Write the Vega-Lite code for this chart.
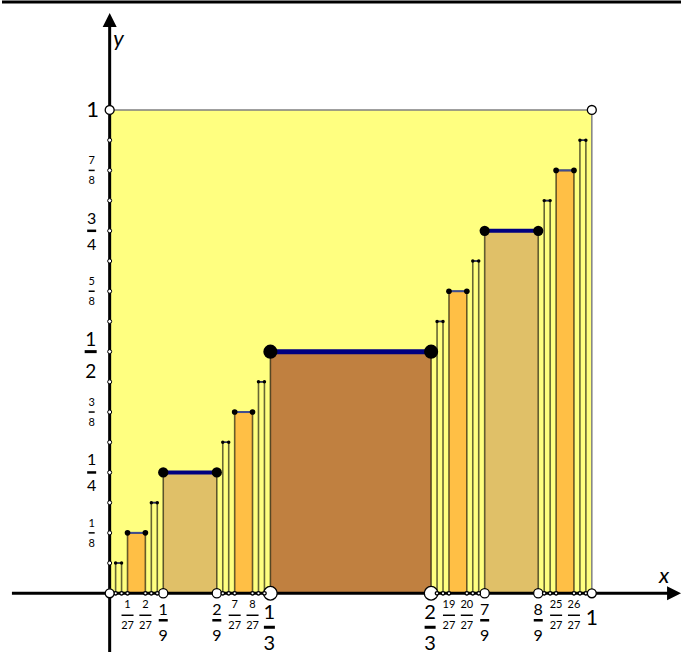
{
  "$schema": "https://vega.github.io/schema/vega-lite/v6.json",
  "width": 683,
  "height": 655,
  "padding": 0,
  "autosize": {"type": "fit", "contains": "padding"},
  "background": "white",
  "config": {"view": {"stroke": null}, "text": {"font": "Lato", "color": "black"}},
  "datasets": {
    "steps": [
      {"lo": 0.333333, "hi": 0.666667, "h": 0.5, "level": 1},
      {"lo": 0.111111, "hi": 0.222222, "h": 0.25, "level": 2},
      {"lo": 0.777778, "hi": 0.888889, "h": 0.75, "level": 2},
      {"lo": 0.037037, "hi": 0.074074, "h": 0.125, "level": 3},
      {"lo": 0.259259, "hi": 0.296296, "h": 0.375, "level": 3},
      {"lo": 0.703704, "hi": 0.740741, "h": 0.625, "level": 3},
      {"lo": 0.925926, "hi": 0.962963, "h": 0.875, "level": 3},
      {"lo": 0.012346, "hi": 0.024691, "h": 0.0625, "level": 4},
      {"lo": 0.08642, "hi": 0.098765, "h": 0.1875, "level": 4},
      {"lo": 0.234568, "hi": 0.246914, "h": 0.3125, "level": 4},
      {"lo": 0.308642, "hi": 0.320988, "h": 0.4375, "level": 4},
      {"lo": 0.679012, "hi": 0.691358, "h": 0.5625, "level": 4},
      {"lo": 0.753086, "hi": 0.765432, "h": 0.6875, "level": 4},
      {"lo": 0.901235, "hi": 0.91358, "h": 0.8125, "level": 4},
      {"lo": 0.975309, "hi": 0.987654, "h": 0.9375, "level": 4}
    ],
    "xlab": [
      {"x": 0.037037, "num": "1", "den": "27", "tier": "s"},
      {"x": 0.074074, "num": "2", "den": "27", "tier": "s"},
      {"x": 0.259259, "num": "7", "den": "27", "tier": "s"},
      {"x": 0.296296, "num": "8", "den": "27", "tier": "s"},
      {"x": 0.703704, "num": "19", "den": "27", "tier": "s"},
      {"x": 0.740741, "num": "20", "den": "27", "tier": "s"},
      {"x": 0.925926, "num": "25", "den": "27", "tier": "s"},
      {"x": 0.962963, "num": "26", "den": "27", "tier": "s"},
      {"x": 0.111111, "num": "1", "den": "9", "tier": "m"},
      {"x": 0.222222, "num": "2", "den": "9", "tier": "m"},
      {"x": 0.777778, "num": "7", "den": "9", "tier": "m"},
      {"x": 0.888889, "num": "8", "den": "9", "tier": "m"},
      {"x": 0.333333, "num": "1", "den": "3", "tier": "l"},
      {"x": 0.666667, "num": "2", "den": "3", "tier": "l"}
    ],
    "ylab": [
      {"y": 0.125, "num": "1", "den": "8", "tier": "s"},
      {"y": 0.375, "num": "3", "den": "8", "tier": "s"},
      {"y": 0.625, "num": "5", "den": "8", "tier": "s"},
      {"y": 0.875, "num": "7", "den": "8", "tier": "s"},
      {"y": 0.25, "num": "1", "den": "4", "tier": "m"},
      {"y": 0.75, "num": "3", "den": "4", "tier": "m"},
      {"y": 0.5, "num": "1", "den": "2", "tier": "l"}
    ],
    "yticks": [
      {"y": 0.0625}, {"y": 0.125}, {"y": 0.1875}, {"y": 0.25}, {"y": 0.3125},
      {"y": 0.375}, {"y": 0.4375}, {"y": 0.5}, {"y": 0.5625}, {"y": 0.625},
      {"y": 0.6875}, {"y": 0.75}, {"y": 0.8125}, {"y": 0.875}, {"y": 0.9375}
    ]
  },
  "resolve": {"scale": {"size": "independent", "strokeWidth": "independent", "color": "independent", "fill": "independent", "shape": "independent"}},
  "layer": [
    {
      "data": {"values": [{"a": 0, "b": 1, "c": 0, "d": 1}]},
      "mark": {"type": "rect", "fill": "#FFFF80", "stroke": "#808080", "strokeWidth": 1.5},
      "encoding": {
        "x": {"field": "a", "type": "quantitative", "scale": {"domain": [-0.2233, 1.18495], "nice": false, "zero": false}, "axis": null},
        "x2": {"field": "b"},
        "y": {"field": "c", "type": "quantitative", "scale": {"domain": [-0.12152, 1.2276], "nice": false, "zero": false}, "axis": null},
        "y2": {"field": "d"}
      }
    },
    {
      "data": {"name": "steps"},
      "mark": {"type": "rect", "stroke": "black", "strokeOpacity": 0.6, "strokeWidth": 1.6},
      "encoding": {
        "x": {"field": "lo", "type": "quantitative", "scale": {"domain": [-0.2233, 1.18495], "nice": false, "zero": false}, "axis": null},
        "x2": {"field": "hi"},
        "y": {"field": "h", "type": "quantitative", "scale": {"domain": [-0.12152, 1.2276], "nice": false, "zero": false}, "axis": null},
        "y2": {"datum": 0},
        "fill": {"field": "level", "type": "ordinal", "scale": {"type": "ordinal", "domain": [1, 2, 3, 4], "range": ["#C08040", "#E0C068", "#FFBF45", "#FFFF80"]}, "legend": null}
      }
    },
    {
      "data": {"values": [{"a": -0.2027, "b": 1.1705, "c": 0}]},
      "mark": {"type": "rule", "color": "black", "strokeWidth": 3},
      "encoding": {
        "x": {"field": "a", "type": "quantitative", "scale": {"domain": [-0.2233, 1.18495], "nice": false, "zero": false}, "axis": null},
        "x2": {"field": "b"},
        "y": {"field": "c", "type": "quantitative", "scale": {"domain": [-0.12152, 1.2276], "nice": false, "zero": false}, "axis": null}
      }
    },
    {
      "data": {"values": [{"c": 0, "a": -0.12152, "b": 1.1864}]},
      "mark": {"type": "rule", "color": "black", "strokeWidth": 3},
      "encoding": {
        "x": {"field": "c", "type": "quantitative", "scale": {"domain": [-0.2233, 1.18495], "nice": false, "zero": false}, "axis": null},
        "y": {"field": "a", "type": "quantitative", "scale": {"domain": [-0.12152, 1.2276], "nice": false, "zero": false}, "axis": null},
        "y2": {"field": "b"}
      }
    },
    {
      "data": {"values": [{"a": -0.2233, "b": 1.18495, "c": 1.2235}]},
      "mark": {"type": "rule", "color": "black", "strokeWidth": 3},
      "encoding": {
        "x": {"field": "a", "type": "quantitative", "scale": {"domain": [-0.2233, 1.18495], "nice": false, "zero": false}, "axis": null},
        "x2": {"field": "b"},
        "y": {"field": "c", "type": "quantitative", "scale": {"domain": [-0.12152, 1.2276], "nice": false, "zero": false}, "axis": null}
      }
    },
    {
      "data": {"values": [{"px": 0, "py": 1.1864, "dir": "up"}, {"px": 1.1705, "py": 0, "dir": "right"}]},
      "mark": {"type": "point", "filled": true, "color": "black", "opacity": 1, "size": 196},
      "encoding": {
        "x": {"field": "px", "type": "quantitative", "scale": {"domain": [-0.2233, 1.18495], "nice": false, "zero": false}, "axis": null},
        "y": {"field": "py", "type": "quantitative", "scale": {"domain": [-0.12152, 1.2276], "nice": false, "zero": false}, "axis": null},
        "shape": {"field": "dir", "type": "nominal", "scale": {"domain": ["up", "right"], "range": ["M-1,1L1,1L0,-1Z", "M-1,-1L1,0L-1,1Z"]}, "legend": null}
      }
    },
    {
      "data": {"name": "steps"},
      "mark": {"type": "rule"},
      "encoding": {
        "x": {"field": "lo", "type": "quantitative", "scale": {"domain": [-0.2233, 1.18495], "nice": false, "zero": false}, "axis": null},
        "x2": {"field": "hi"},
        "y": {"field": "h", "type": "quantitative", "scale": {"domain": [-0.12152, 1.2276], "nice": false, "zero": false}, "axis": null},
        "color": {"field": "level", "type": "ordinal", "scale": {"type": "ordinal", "domain": [1, 2, 3, 4], "range": ["#000080", "#000080", "#404c90", "#2a3060"]}, "legend": null},
        "strokeWidth": {"field": "level", "type": "ordinal", "scale": {"type": "ordinal", "domain": [1, 2, 3, 4], "range": [5, 4, 2, 1.5]}, "legend": null}
      }
    },
    {
      "data": {"name": "steps"},
      "transform": [{"fold": ["lo", "hi"], "as": ["end", "px"]}],
      "mark": {"type": "point", "shape": "circle", "filled": true, "color": "black", "opacity": 1},
      "encoding": {
        "x": {"field": "px", "type": "quantitative", "scale": {"domain": [-0.2233, 1.18495], "nice": false, "zero": false}, "axis": null},
        "y": {"field": "h", "type": "quantitative", "scale": {"domain": [-0.12152, 1.2276], "nice": false, "zero": false}, "axis": null},
        "size": {"field": "level", "type": "ordinal", "scale": {"type": "ordinal", "domain": [1, 2, 3, 4], "range": [200, 105, 32, 12]}, "legend": null}
      }
    },
    {
      "data": {"name": "steps"},
      "transform": [{"fold": ["lo", "hi"], "as": ["end", "px"]}],
      "mark": {"type": "point", "shape": "circle", "filled": true, "fill": "white", "stroke": "black", "strokeWidth": 1.3, "opacity": 1},
      "encoding": {
        "x": {"field": "px", "type": "quantitative", "scale": {"domain": [-0.2233, 1.18495], "nice": false, "zero": false}, "axis": null},
        "y": {"datum": 0, "type": "quantitative", "scale": {"domain": [-0.12152, 1.2276], "nice": false, "zero": false}, "axis": null},
        "size": {"field": "level", "type": "ordinal", "scale": {"type": "ordinal", "domain": [1, 2, 3, 4], "range": [185, 85, 12, 12]}, "legend": null}
      }
    },
    {
      "data": {"values": [{"px": 0, "py": 0}, {"px": 1, "py": 0}, {"px": 0, "py": 1}, {"px": 1, "py": 1}]},
      "mark": {"type": "point", "shape": "circle", "filled": true, "fill": "white", "stroke": "black", "strokeWidth": 1.3, "opacity": 1, "size": 80},
      "encoding": {
        "x": {"field": "px", "type": "quantitative", "scale": {"domain": [-0.2233, 1.18495], "nice": false, "zero": false}, "axis": null},
        "y": {"field": "py", "type": "quantitative", "scale": {"domain": [-0.12152, 1.2276], "nice": false, "zero": false}, "axis": null}
      }
    },
    {
      "data": {"name": "yticks"},
      "mark": {"type": "point", "shape": "circle", "filled": true, "fill": "white", "stroke": "black", "strokeWidth": 1, "opacity": 1, "size": 16},
      "encoding": {
        "x": {"datum": 0, "type": "quantitative", "scale": {"domain": [-0.2233, 1.18495], "nice": false, "zero": false}, "axis": null},
        "y": {"field": "y", "type": "quantitative", "scale": {"domain": [-0.12152, 1.2276], "nice": false, "zero": false}, "axis": null}
      }
    },
    {
      "data": {"name": "xlab"},
      "transform": [{"filter": "datum.tier == 's'"}],
      "layer": [
        {"mark": {"type": "text", "fontSize": 11, "baseline": "middle", "dy": 12}, "encoding": {"text": {"field": "num"}}},
        {"mark": {"type": "rule", "color": "black", "strokeWidth": 1.5, "yOffset": 22, "xOffset": -6, "x2Offset": 6}, "encoding": {"x2": {"field": "x"}}},
        {"mark": {"type": "text", "fontSize": 11, "baseline": "middle", "dy": 33}, "encoding": {"text": {"field": "den"}}}
      ],
      "encoding": {
        "x": {"field": "x", "type": "quantitative", "scale": {"domain": [-0.2233, 1.18495], "nice": false, "zero": false}, "axis": null},
        "y": {"datum": 0, "type": "quantitative", "scale": {"domain": [-0.12152, 1.2276], "nice": false, "zero": false}, "axis": null}
      }
    },
    {
      "data": {"name": "xlab"},
      "transform": [{"filter": "datum.tier == 'm'"}],
      "layer": [
        {"mark": {"type": "text", "fontSize": 16, "baseline": "middle", "dy": 17}, "encoding": {"text": {"field": "num"}}},
        {"mark": {"type": "rule", "color": "black", "strokeWidth": 2.5, "yOffset": 27, "xOffset": -4.5, "x2Offset": 4.5}, "encoding": {"x2": {"field": "x"}}},
        {"mark": {"type": "text", "fontSize": 16, "baseline": "middle", "dy": 43}, "encoding": {"text": {"field": "den"}}}
      ],
      "encoding": {
        "x": {"field": "x", "type": "quantitative", "scale": {"domain": [-0.2233, 1.18495], "nice": false, "zero": false}, "axis": null},
        "y": {"datum": 0, "type": "quantitative", "scale": {"domain": [-0.12152, 1.2276], "nice": false, "zero": false}, "axis": null}
      }
    },
    {
      "data": {"name": "xlab"},
      "transform": [{"filter": "datum.tier == 'l'"}],
      "layer": [
        {"mark": {"type": "text", "fontSize": 20, "baseline": "middle", "dy": 20, "dx": -1}, "encoding": {"text": {"field": "num"}}},
        {"mark": {"type": "rule", "color": "black", "strokeWidth": 3, "yOffset": 34, "xOffset": -6.5, "x2Offset": 4.5}, "encoding": {"x2": {"field": "x"}}},
        {"mark": {"type": "text", "fontSize": 20, "baseline": "middle", "dy": 51, "dx": -1}, "encoding": {"text": {"field": "den"}}}
      ],
      "encoding": {
        "x": {"field": "x", "type": "quantitative", "scale": {"domain": [-0.2233, 1.18495], "nice": false, "zero": false}, "axis": null},
        "y": {"datum": 0, "type": "quantitative", "scale": {"domain": [-0.12152, 1.2276], "nice": false, "zero": false}, "axis": null}
      }
    },
    {
      "data": {"name": "ylab"},
      "transform": [{"filter": "datum.tier == 's'"}],
      "layer": [
        {"mark": {"type": "text", "fontSize": 11, "baseline": "middle", "dx": -18, "dy": -9}, "encoding": {"text": {"field": "num"}}},
        {"mark": {"type": "rule", "color": "black", "strokeWidth": 1.5, "xOffset": -21, "x2Offset": -15}, "encoding": {"x2": {"datum": 0}}},
        {"mark": {"type": "text", "fontSize": 11, "baseline": "middle", "dx": -18, "dy": 11}, "encoding": {"text": {"field": "den"}}}
      ],
      "encoding": {
        "x": {"datum": 0, "type": "quantitative", "scale": {"domain": [-0.2233, 1.18495], "nice": false, "zero": false}, "axis": null},
        "y": {"field": "y", "type": "quantitative", "scale": {"domain": [-0.12152, 1.2276], "nice": false, "zero": false}, "axis": null}
      }
    },
    {
      "data": {"name": "ylab"},
      "transform": [{"filter": "datum.tier == 'm'"}],
      "layer": [
        {"mark": {"type": "text", "fontSize": 16, "baseline": "middle", "dx": -18, "dy": -12}, "encoding": {"text": {"field": "num"}}},
        {"mark": {"type": "rule", "color": "black", "strokeWidth": 2.5, "xOffset": -22.5, "x2Offset": -13.5}, "encoding": {"x2": {"datum": 0}}},
        {"mark": {"type": "text", "fontSize": 16, "baseline": "middle", "dx": -18, "dy": 14}, "encoding": {"text": {"field": "den"}}}
      ],
      "encoding": {
        "x": {"datum": 0, "type": "quantitative", "scale": {"domain": [-0.2233, 1.18495], "nice": false, "zero": false}, "axis": null},
        "y": {"field": "y", "type": "quantitative", "scale": {"domain": [-0.12152, 1.2276], "nice": false, "zero": false}, "axis": null}
      }
    },
    {
      "data": {"name": "ylab"},
      "transform": [{"filter": "datum.tier == 'l'"}],
      "layer": [
        {"mark": {"type": "text", "fontSize": 19, "baseline": "middle", "dx": -19, "dy": -12}, "encoding": {"text": {"field": "num"}}},
        {"mark": {"type": "rule", "color": "black", "strokeWidth": 3, "xOffset": -25, "x2Offset": -13}, "encoding": {"x2": {"datum": 0}}},
        {"mark": {"type": "text", "fontSize": 19, "baseline": "middle", "dx": -19, "dy": 20}, "encoding": {"text": {"field": "den"}}}
      ],
      "encoding": {
        "x": {"datum": 0, "type": "quantitative", "scale": {"domain": [-0.2233, 1.18495], "nice": false, "zero": false}, "axis": null},
        "y": {"field": "y", "type": "quantitative", "scale": {"domain": [-0.12152, 1.2276], "nice": false, "zero": false}, "axis": null}
      }
    },
    {
      "data": {"values": [{"px": 0, "py": 1, "t": "1"}]},
      "mark": {"type": "text", "fontSize": 22, "baseline": "middle", "dx": -17},
      "encoding": {
        "x": {"field": "px", "type": "quantitative", "scale": {"domain": [-0.2233, 1.18495], "nice": false, "zero": false}, "axis": null},
        "y": {"field": "py", "type": "quantitative", "scale": {"domain": [-0.12152, 1.2276], "nice": false, "zero": false}, "axis": null},
        "text": {"field": "t"}
      }
    },
    {
      "data": {"values": [{"px": 1, "py": 0, "t": "1"}]},
      "mark": {"type": "text", "fontSize": 21, "baseline": "middle", "dy": 26},
      "encoding": {
        "x": {"field": "px", "type": "quantitative", "scale": {"domain": [-0.2233, 1.18495], "nice": false, "zero": false}, "axis": null},
        "y": {"field": "py", "type": "quantitative", "scale": {"domain": [-0.12152, 1.2276], "nice": false, "zero": false}, "axis": null},
        "text": {"field": "t"}
      }
    },
    {
      "data": {"values": [{"px": 0.0185, "py": 1.1473, "t": "y"}, {"px": 1.1499, "py": 0.035, "t": "x"}]},
      "mark": {"type": "text", "fontSize": 22, "fontStyle": "italic", "baseline": "middle"},
      "encoding": {
        "x": {"field": "px", "type": "quantitative", "scale": {"domain": [-0.2233, 1.18495], "nice": false, "zero": false}, "axis": null},
        "y": {"field": "py", "type": "quantitative", "scale": {"domain": [-0.12152, 1.2276], "nice": false, "zero": false}, "axis": null},
        "text": {"field": "t"}
      }
    }
  ]
}
